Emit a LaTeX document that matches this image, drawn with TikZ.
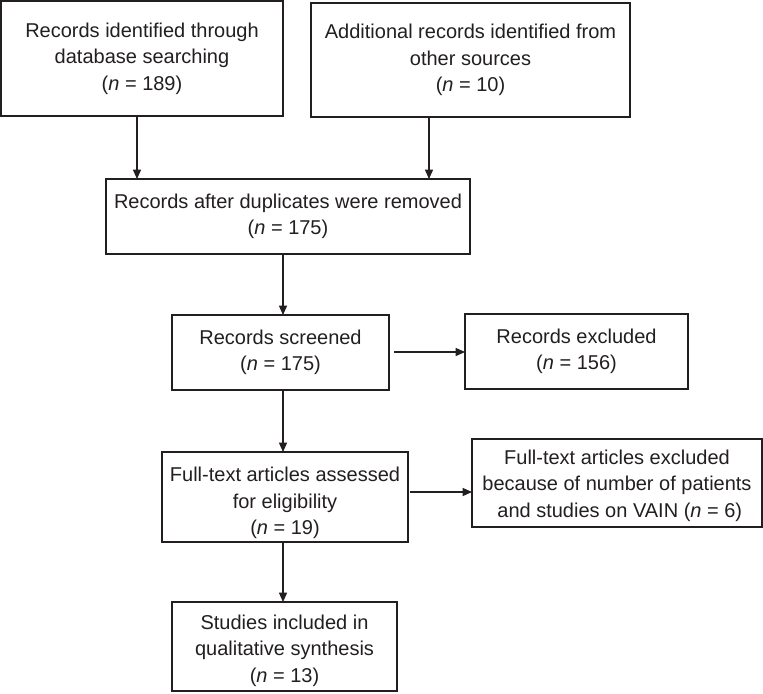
\documentclass[tikz,border=0pt]{standalone}
\usepackage{fontspec}
\setmainfont{Liberation Sans}
\usetikzlibrary{arrows.meta}
\definecolor{ink}{RGB}{35,31,32}
\begin{document}
\begin{tikzpicture}[x=0.75pt,y=-0.75pt,
  box/.style={draw=ink, line width=1pt, inner sep=0pt, outer sep=0pt, align=center,
    text=ink, font=\fontsize{15}{19.8}\selectfont},
  arr/.style={draw=ink, line width=1pt, -{Triangle[length=7pt,width=6pt]}}]
\useasboundingbox[fill=white] (0,0) rectangle (763,693);

\node[box, minimum width=211.5pt, minimum height=86.25pt] (b1) at (142,58.5) {Records identified through\\database searching\\(\textit{n} = 189)};
\node[box, minimum width=239.25pt, minimum height=85.5pt] (b2) at (470.5,60) {Additional records identified from\\other sources\\(\textit{n} = 10)};
\node[box, minimum width=273pt, minimum height=56.25pt] (b3) at (288,216.5) {Records after duplicates were removed\\(\textit{n} = 175)};
\node[box, minimum width=162.75pt, minimum height=56.25pt] (b4) at (280.5,352.5) {Records screened\\(\textit{n} = 175)};
\node[box, minimum width=167.25pt, minimum height=56.25pt] (b5) at (576.5,351.5) {Records excluded\\(\textit{n} = 156)};
\node[box, minimum width=184.5pt, minimum height=67.5pt] (b6) at (285,497) {};
\node[box, draw=none, yshift=-4.5pt] (t6) at (b6) {Full-text articles assessed\\for eligibility\\(\textit{n} = 19)};
\node[box, minimum width=217.5pt, minimum height=66pt] (b7) at (617,483) {};
\node[box, draw=none, yshift=-2pt] (t7) at (b7) {Full-text articles excluded\\because of number of patients\\\ and studies on VAIN (\textit{n} = 6)};
\node[box, minimum width=168.75pt, minimum height=66.75pt] (b8) at (284.5,646.5) {};
\node[box, draw=none, yshift=-3pt] (t8) at (b8) {Studies included in\\qualitative synthesis\\(\textit{n} = 13)};

\coordinate (x1) at (137,0);
\coordinate (x2) at (429,0);
\coordinate (xc) at (283,0);
\coordinate (y45) at (0,352);
\coordinate (y67) at (0,492);

\draw[arr] (b1.south -| x1) -- (b3.north -| x1);
\draw[arr] (b2.south -| x2) -- (b3.north -| x2);
\draw[arr] (b3.south -| xc) -- (b4.north -| xc);
\draw[arr, shorten <=3.75pt] (b4.east |- y45) -- (b5.west |- y45);
\draw[arr] (b4.south -| xc) -- (b6.north -| xc);
\draw[arr, shorten <=1.5pt] (b6.east |- y67) -- (b7.west |- y67);
\draw[arr] (b6.south -| xc) -- (b8.north -| xc);
\end{tikzpicture}
\end{document}
